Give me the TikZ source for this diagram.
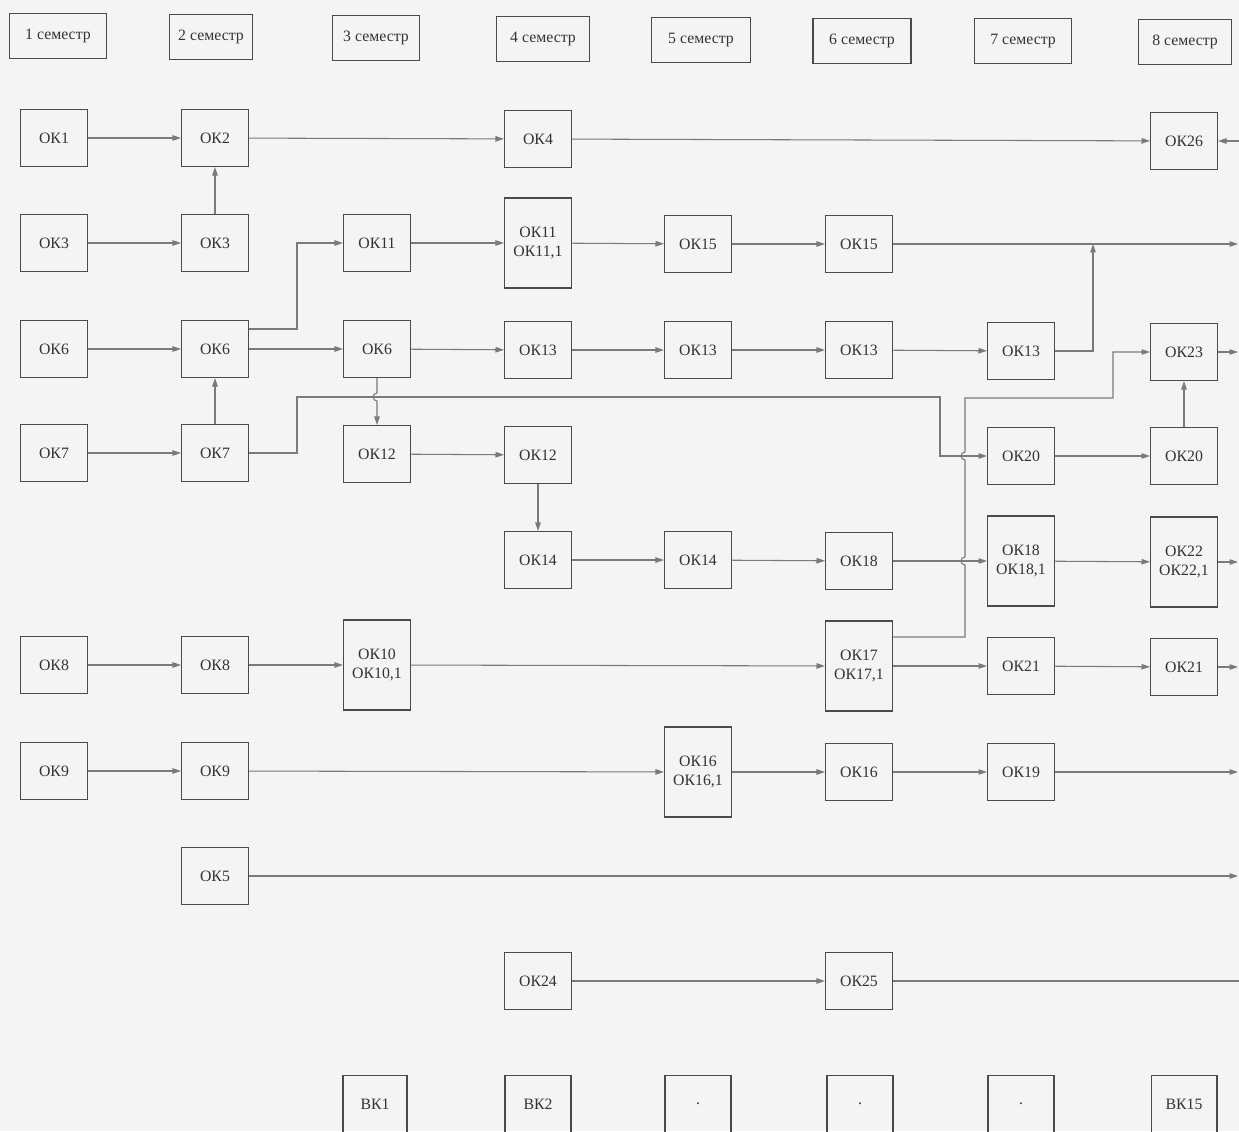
\documentclass[tikz,border=0pt]{standalone}
\usepackage{fontspec}
\setmainfont{Liberation Serif}
\usetikzlibrary{arrows.meta,calc}
\definecolor{boxc}{HTML}{4A4A4A}
\definecolor{linec}{HTML}{7A7A7A}
\definecolor{txtc}{HTML}{333333}
\definecolor{bgc}{HTML}{F4F4F4}
\tikzset{
  bx/.style={draw=boxc,line width=0.6pt,minimum width=1.34cm,minimum height=1.14cm,inner sep=1pt,
    font=\fontsize{9pt}{10.8pt}\selectfont,text=txtc,align=center},
  tallbx/.style={bx,minimum height=1.8cm},
  hdr/.style={bx,minimum width=1.9cm,minimum height=0.9cm},
  arr/.style={draw=linec,line width=0.6pt,-{Triangle[length=0.17cm,width=0.11cm]}},
  ln/.style={draw=linec,line width=0.6pt},
}
\begin{document}
\begin{tikzpicture}[x=0.02cm,y=-0.02cm]
\fill[bgc] (0,0) rectangle (1239,1131);
\useasboundingbox (0,0) rectangle (1239,1131);
% headers
\node[hdr,minimum width=1.94cm] (hd1) at (58,36) {1 семестр};
\node[hdr,minimum width=1.66cm] (hd2) at (211,37) {2 семестр};
\node[hdr,minimum width=1.74cm] (hd3) at (376,38) {3 семестр};
\node[hdr,minimum width=1.86cm] (hd4) at (543,39) {4 семестр};
\node[hdr,minimum width=1.98cm] (hd5) at (701,40) {5 семестр};
\node[hdr,minimum width=1.96cm] (hd6) at (862,41) {6 семестр};
\node[hdr,minimum width=1.94cm] (hd7) at (1023,41) {7 семестр};
\node[hdr,minimum width=1.86cm] (hd8) at (1185,42) {8 семестр};
% row 1
\node[bx] (a1) at (54,138) {ОК1};
\node[bx] (b1) at (215,138) {ОК2};
\node[bx] (d1) at (538,139) {ОК4};
\node[bx] (h1) at (1184,141) {ОК26};
% row 2
\node[bx] (a2) at (54,243) {ОК3};
\node[bx] (b2) at (215,243) {ОК3};
\node[bx] (c2) at (377,243) {ОК11};
\node[tallbx] (d2) at (538,243) {ОК11\\ОК11,1};
\node[bx] (e2) at (698,244) {ОК15};
\node[bx] (f2) at (859,244) {ОК15};
% row 3
\node[bx] (a3) at (54,349) {ОК6};
\node[bx] (b3) at (215,349) {ОК6};
\node[bx] (c3) at (377,349) {ОК6};
\node[bx] (d3) at (538,350) {ОК13};
\node[bx] (e3) at (698,350) {ОК13};
\node[bx] (f3) at (859,350) {ОК13};
\node[bx] (g3) at (1021,351) {ОК13};
\node[bx] (h3) at (1184,352) {ОК23};
% row 4
\node[bx] (a4) at (54,453) {ОК7};
\node[bx] (b4) at (215,453) {ОК7};
\node[bx] (c4) at (377,454) {ОК12};
\node[bx] (d4) at (538,455) {ОК12};
\node[bx] (g4) at (1021,456) {ОК20};
\node[bx] (h4) at (1184,456) {ОК20};
% row 5
\node[bx] (d5) at (538,560) {ОК14};
\node[bx] (e5) at (698,560) {ОК14};
\node[bx] (f5) at (859,561) {ОК18};
\node[tallbx] (g5) at (1021,561) {ОК18\\ОК18,1};
\node[tallbx] (h5) at (1184,562) {ОК22\\ОК22,1};
% row 6
\node[bx] (a6) at (54,665) {ОК8};
\node[bx] (b6) at (215,665) {ОК8};
\node[tallbx] (c6) at (377,665) {ОК10\\ОК10,1};
\node[tallbx] (f6) at (859,666) {ОК17\\ОК17,1};
\node[bx] (g6) at (1021,666) {ОК21};
\node[bx] (h6) at (1184,667) {ОК21};
% row 7
\node[bx] (a7) at (54,771) {ОК9};
\node[bx] (b7) at (215,771) {ОК9};
\node[tallbx] (e7) at (698,772) {ОК16\\ОК16,1};
\node[bx] (f7) at (859,772) {ОК16};
\node[bx] (g7) at (1021,772) {ОК19};
% row 8
\node[bx] (b8) at (215,876) {ОК5};
% row 9
\node[bx] (d9) at (538,981) {ОК24};
\node[bx] (f9) at (859,981) {ОК25};
% row 10
\node[bx,minimum width=1.28cm] (c10) at (375,1104) {ВК1};
\node[bx,minimum width=1.32cm] (d10) at (538,1104) {ВК2};
\node[bx,minimum width=1.32cm] (e10) at (698,1104) {.};
\node[bx,minimum width=1.32cm] (f10) at (860,1104) {.};
\node[bx,minimum width=1.32cm] (g10) at (1021,1104) {.};
\node[bx,minimum width=1.32cm] (h10) at (1184,1104) {ВК15};
% edge coordinates
\coordinate (in1) at (1239,141);
\coordinate (out2) at (1238,244);
\coordinate (out3) at (1238,352);
\coordinate (out5) at (1238,562);
\coordinate (out6) at (1238,667);
\coordinate (out7) at (1238,772);
\coordinate (out8) at (1238,876);
\coordinate (out9) at (1239,981);
% row 1
\draw[arr] (a1) -- (b1);
\draw[arr] (b1) -- (d1);
\draw[arr] (d1) -- (h1);
\draw[arr] (in1) -- (h1);
\draw[arr] (b2) -- (b1);
% row 2
\draw[arr] (a2) -- (b2);
\draw[arr] (c2) -- (d2);
\draw[arr] (d2) -- (e2);
\draw[arr] (e2) -- (f2);
\draw[arr] (f2) -- (out2);
\draw[arr] (g3.east) -- (1093,351) -- (1093,244);
\draw[arr] (b3.east |- 0,329) -- (297,329) |- (c2.west);
% row 3
\draw[arr] (a3) -- (b3);
\draw[arr] (b3) -- (c3);
\draw[arr] (c3) -- (d3);
\draw[arr] (d3) -- (e3);
\draw[arr] (e3) -- (f3);
\draw[arr] (f3) -- (g3);
\draw[arr] (h3) -- (out3);
% long line from OK7 to OK20
\draw[arr] (b4.east) -- (297,453) -- (297,397) -- (940,397) |- (g4.west);
% line from OK17 to OK23 with hops
\draw[arr] (f6.east |- 0,637) -- (965,637) -- (965,565)
  arc[start angle=270,end angle=90,radius=0.08cm] -- (965,460)
  arc[start angle=270,end angle=90,radius=0.08cm] -- (965,398) -- (1113,398) |- (h3.west);
\draw[arr] (g4) -- (h4);
\draw[arr] (h4) -- (h3);
% row 4
\draw[arr] (a4) -- (b4);
\draw[arr] (b4) -- (b3);
\draw[arr] (c3.south) -- (377,393) arc[start angle=90,end angle=270,radius=0.08cm] -- (c4.north);
\draw[arr] (c4) -- (d4);
\draw[arr] (d4) -- (d5);
% row 5
\draw[arr] (d5) -- (e5);
\draw[arr] (e5) -- (f5);
\draw[arr] (f5) -- (g5);
\draw[arr] (g5) -- (h5);
\draw[arr] (h5) -- (out5);
% row 6
\draw[arr] (a6) -- (b6);
\draw[arr] (b6) -- (c6);
\draw[arr] (c6) -- (f6);
\draw[arr] (f6) -- (g6);
\draw[arr] (g6) -- (h6);
\draw[arr] (h6) -- (out6);
% row 7
\draw[arr] (a7) -- (b7);
\draw[arr] (b7) -- (e7);
\draw[arr] (e7) -- (f7);
\draw[arr] (f7) -- (g7);
\draw[arr] (g7) -- (out7);
% row 8
\draw[arr] (b8) -- (out8);
% row 9
\draw[arr] (d9) -- (f9);
\draw[ln] (f9) -- (out9);
\end{tikzpicture}
\end{document}
